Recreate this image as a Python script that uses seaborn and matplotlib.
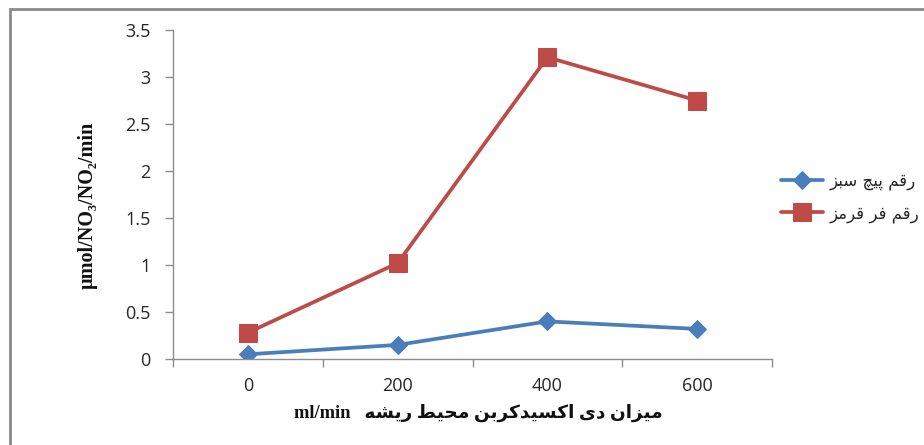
import matplotlib
matplotlib.use("Agg")
import matplotlib.pyplot as plt
from matplotlib.patches import Rectangle
from matplotlib.ticker import FixedLocator, FuncFormatter
import seaborn as sns
import pandas as pd

# ---- data -------------------------------------------------------------
co2_rates = [0, 200, 400, 600]                 # ml/min
green_spiral = [0.05, 0.15, 0.40, 0.32]        # رقم پیچ سبز
red_fur = [0.28, 1.02, 3.21, 2.75]             # رقم فر قرمز
series_names = ["رقم پیچ سبز", "رقم فر قرمز"]
x_title = "میزان دی اکسیدکربن محیط ریشه"
x_unit = "ml/min"
y_title = "µmol/NO₃/NO₂/min"
y_ticks = [0, 0.5, 1, 1.5, 2, 2.5, 3, 3.5]

# ---- minimal Persian shaping (matplotlib has no bidi / joining) ---------
FORMS = {
    'ا': ('\uFE8D', '\uFE8E', None, None),
    'ب': ('\uFE8F', '\uFE90', '\uFE91', '\uFE92'),
    'پ': ('\uFB56', '\uFB57', '\uFB58', '\uFB59'),
    'چ': ('\uFB7A', '\uFB7B', '\uFB7C', '\uFB7D'),
    'ح': ('\uFEA1', '\uFEA2', '\uFEA3', '\uFEA4'),
    'د': ('\uFEA9', '\uFEAA', None, None),
    'ر': ('\uFEAD', '\uFEAE', None, None),
    'ز': ('\uFEAF', '\uFEB0', None, None),
    'س': ('\uFEB1', '\uFEB2', '\uFEB3', '\uFEB4'),
    'ش': ('\uFEB5', '\uFEB6', '\uFEB7', '\uFEB8'),
    'ط': ('\uFEC1', '\uFEC2', '\uFEC3', '\uFEC4'),
    'ف': ('\uFED1', '\uFED2', '\uFED3', '\uFED4'),
    'ق': ('\uFED5', '\uFED6', '\uFED7', '\uFED8'),
    'ک': ('\uFB8E', '\uFB8F', '\uFB90', '\uFB91'),
    'م': ('\uFEE1', '\uFEE2', '\uFEE3', '\uFEE4'),
    'ن': ('\uFEE5', '\uFEE6', '\uFEE7', '\uFEE8'),
    'ه': ('\uFEE9', '\uFEEA', '\uFEEB', '\uFEEC'),
    'ی': ('\uFBFC', '\uFBFD', '\uFBFE', '\uFBFF'),
}


def persian_visual(text):
    text = text.replace('ك', 'ک').replace('ي', 'ی')
    out = []
    for i, ch in enumerate(text):
        if ch not in FORMS:
            out.append(ch)
            continue
        prev = text[i - 1] if i > 0 else ''
        nxt = text[i + 1] if i + 1 < len(text) else ''
        joins_prev = prev in FORMS and FORMS[prev][2] is not None
        joins_next = FORMS[ch][2] is not None and nxt in FORMS
        iso, fin, ini, med = FORMS[ch]
        if joins_prev and joins_next:
            out.append(med)
        elif joins_prev:
            out.append(fin)
        elif joins_next:
            out.append(ini)
        else:
            out.append(iso)
    return ''.join(reversed(out))


# ---- figure -----------------------------------------------------------
sns.set_theme(style="white")
plt.rcParams["font.family"] = ["Open Sans", "DejaVu Sans"]

df = pd.DataFrame({
    "co2": co2_rates * 2,
    "value": green_spiral + red_fur,
    "series": [series_names[0]] * 4 + [series_names[1]] * 4,
})

fig = plt.figure(figsize=(9.24, 4.45), dpi=100)
ax = fig.add_axes([173 / 924, 1 - 359 / 445, (772 - 173) / 924, (359 - 30) / 445])

palette = {series_names[0]: "#4A7EBB", series_names[1]: "#BE4B48"}
markers = {series_names[0]: "D", series_names[1]: "s"}
sizes = {series_names[0]: 9.5, series_names[1]: 12.5}

for name in series_names:
    sub = df[df["series"] == name]
    sns.lineplot(data=sub, x="co2", y="value", ax=ax, color=palette[name],
                 linewidth=2.7, marker=markers[name], markersize=sizes[name],
                 markeredgecolor=palette[name], label=persian_visual(name),
                 legend=False)

ax.set_xlim(-100, 700)
ax.set_ylim(0, 3.5)

# axes styling
for side in ("top", "right"):
    ax.spines[side].set_visible(False)
for side in ("left", "bottom"):
    ax.spines[side].set_color("#8C8C8C")
    ax.spines[side].set_linewidth(1.0)

ax.xaxis.set_major_locator(FixedLocator(co2_rates))
ax.xaxis.set_minor_locator(FixedLocator([-100, 100, 300, 500, 700]))
ax.set_xticklabels([str(v) for v in co2_rates])
ax.tick_params(axis="x", which="major", length=0, pad=13, labelsize=13, labelcolor="#262626")
ax.tick_params(axis="x", which="minor", length=6, width=1, color="#8C8C8C", direction="out", bottom=True)

ax.yaxis.set_major_locator(FixedLocator(y_ticks))
ax.yaxis.set_major_formatter(FuncFormatter(lambda v, p: f"{v:g}"))
ax.tick_params(axis="y", which="major", length=6, width=1, color="#8C8C8C", direction="out",
               left=True, pad=10, labelsize=13, labelcolor="#262626")

ax.set_xlabel("")
ax.set_ylabel("")

# axis titles
fig.text(478 / 924, 1 - 413 / 445, x_unit + "   " + persian_visual(x_title),
         ha="center", va="center", fontsize=13.3, fontweight="bold",
         family=["Liberation Serif", "DejaVu Sans"], color="#111111")
fig.text(88 / 924, 1 - 205 / 445, y_title, rotation=90, ha="center", va="center",
         fontsize=14.5, fontweight="bold", family=["Liberation Serif", "DejaVu Sans"],
         color="#111111")

# legend
leg = ax.legend(loc="center left", bbox_to_anchor=(781 / 924, 1 - 197 / 445),
                bbox_transform=fig.transFigure, frameon=False,
                handlelength=2.5, handletextpad=0.4, labelspacing=0.85,
                borderpad=0, borderaxespad=0,
                prop={"family": "DejaVu Sans", "size": 12})

# outer chart frame
fig.patches.append(Rectangle((10 / 924, -0.1), 1.2, 0.1 + 1 - 9 / 445,
                             transform=fig.transFigure, fill=False,
                             edgecolor="#8A8A8A", linewidth=2.0))

fig.savefig("out.png", dpi=100)
